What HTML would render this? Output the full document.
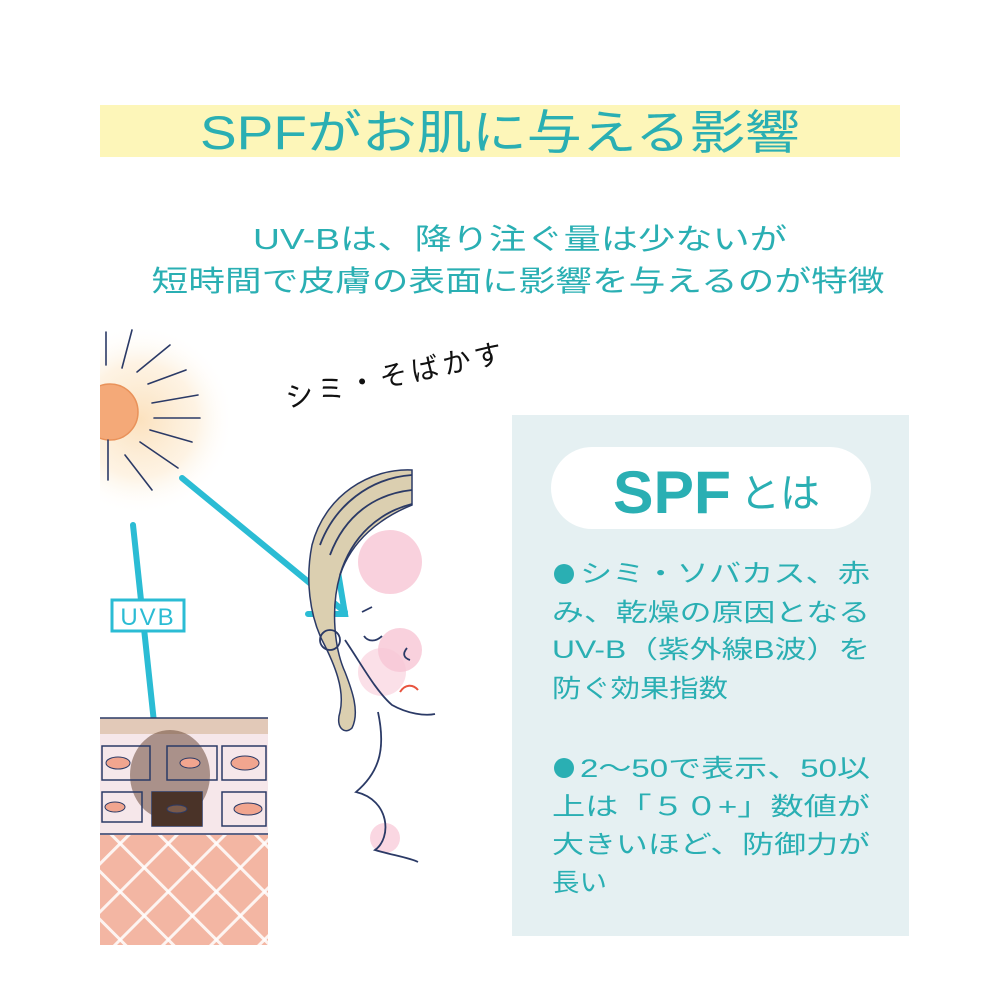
<!DOCTYPE html>
<html><head><meta charset="utf-8"><style>
html,body{margin:0;padding:0;background:#fff;width:1000px;height:1000px;overflow:hidden}
svg text{font-family:"Liberation Sans","Noto Sans CJK JP",sans-serif;fill:#2aafb3}
</style></head><body>
<svg width="1000" height="1000" viewBox="0 0 1000 1000" xmlns="http://www.w3.org/2000/svg">
<defs>
<radialGradient id="glow" cx="0.5" cy="0.5" r="0.5">
<stop offset="0" stop-color="#fbe0bb" stop-opacity="0.95"/>
<stop offset="0.6" stop-color="#fdeed8" stop-opacity="0.7"/>
<stop offset="1" stop-color="#fff" stop-opacity="0"/>
</radialGradient>
<pattern id="diag" width="34" height="34" patternUnits="userSpaceOnUse" patternTransform="rotate(45)">
<rect width="34" height="34" fill="#f3b6a3"/>
<rect width="3" height="34" fill="#fff" opacity="0.85"/>
<rect width="34" height="3" fill="#fff" opacity="0.85"/>
</pattern>
<clipPath id="lc"><rect x="100" y="0" width="900" height="1000"/></clipPath>
</defs>
<rect x="100" y="105" width="800" height="52" fill="#fdf6b9"/>
<text x="500" y="149" font-size="47" text-anchor="middle" textLength="600" lengthAdjust="spacingAndGlyphs">SPFがお肌に与える影響</text>
<text x="520" y="249" font-size="29" text-anchor="middle" textLength="534" lengthAdjust="spacingAndGlyphs">UV-Bは、降り注ぐ量は少ないが</text>
<text x="518" y="291" font-size="29" text-anchor="middle" textLength="733" lengthAdjust="spacingAndGlyphs">短時間で皮膚の表面に影響を与えるのが特徴</text>

<g clip-path="url(#lc)">
<circle cx="140" cy="420" r="95" fill="url(#glow)"/>
<circle cx="110" cy="412" r="28" fill="#f4a978" stroke="#e9925a" stroke-width="1.5"/>
<g stroke="#2b3a66" stroke-width="1.6" stroke-linecap="round">
<line x1="106" y1="332" x2="106" y2="365"/>
<line x1="132" y1="330" x2="122" y2="368"/>
<line x1="170" y1="345" x2="137" y2="372"/>
<line x1="186" y1="370" x2="148" y2="384"/>
<line x1="198" y1="395" x2="152" y2="403"/>
<line x1="200" y1="418" x2="154" y2="418"/>
<line x1="192" y1="442" x2="150" y2="430"/>
<line x1="178" y1="468" x2="140" y2="442"/>
<line x1="152" y1="490" x2="125" y2="455"/>
<line x1="108" y1="440" x2="108" y2="480"/>
</g>
</g>

<text x="288" y="408" font-size="28" style="fill:#111" transform="rotate(-12 288 408)" letter-spacing="4">シミ・そばかす</text>

<g stroke="#2bbcd4" stroke-width="6" fill="none" stroke-linecap="round">
<line x1="182" y1="478" x2="345" y2="612"/>
<polyline points="308,614 345,614 338,572"/>
<line x1="133" y1="525" x2="158" y2="760"/>
<polyline points="140,733 158,762 176,733"/>
</g>
<rect x="112" y="600" width="72" height="31" fill="#fff" stroke="#2bbcd4" stroke-width="3"/>
<text x="148" y="625" font-size="24" text-anchor="middle" style="fill:#2bbcd4" letter-spacing="2">UVB</text>

<rect x="100" y="835" width="168" height="110" fill="url(#diag)"/>
<rect x="100" y="718" width="168" height="117" fill="#f6e7ea"/>
<rect x="100" y="718" width="168" height="16" fill="#e2c9b8"/>
<line x1="100" y1="718" x2="268" y2="718" stroke="#2b3a66" stroke-width="1.5"/>
<line x1="100" y1="834" x2="268" y2="834" stroke="#2b3a66" stroke-width="1.5"/>
<ellipse cx="170" cy="775" rx="40" ry="45" fill="#6b4a3a" opacity="0.55"/>
<g fill="none" stroke="#2b3a66" stroke-width="1.5">
<rect x="102" y="746" width="48" height="34"/><rect x="167" y="746" width="50" height="34"/><rect x="222" y="746" width="44" height="34"/>
<rect x="102" y="792" width="40" height="30"/><rect x="152" y="792" width="50" height="34"/><rect x="222" y="792" width="44" height="34"/>
</g>
<rect x="152" y="792" width="50" height="34" fill="#4a3328"/>
<g fill="#f1a58f" stroke="#2b3a66" stroke-width="1">
<ellipse cx="118" cy="763" rx="12" ry="6"/><ellipse cx="190" cy="763" rx="10" ry="5"/><ellipse cx="245" cy="763" rx="14" ry="7"/>
<ellipse cx="115" cy="807" rx="10" ry="5"/><ellipse cx="177" cy="809" rx="10" ry="4" fill="#7a5a4a"/><ellipse cx="248" cy="809" rx="14" ry="6"/>
</g>

<!-- face -->
<circle cx="390" cy="562" r="32" fill="#f8c6d5" opacity="0.8"/>
<circle cx="400" cy="650" r="22" fill="#f8c6d5" opacity="0.8"/>
<circle cx="382" cy="672" r="24" fill="#f8c6d5" opacity="0.55"/>
<circle cx="385" cy="838" r="15" fill="#f8c6d5" opacity="0.7"/>
<path d="M412,470 C370,468 325,495 312,545 C305,580 310,615 322,640 C335,665 345,690 340,712 C335,728 345,735 352,728 C360,712 352,690 345,672 C335,650 330,610 340,575 C352,540 380,518 412,505 Z" fill="#dbcfb0" stroke="#2b3a66" stroke-width="1.5"/>
<g fill="none" stroke="#2b3a66" stroke-width="1.8">
<path d="M412,475 C370,478 335,505 320,545"/>
<path d="M412,490 C375,494 345,515 330,555"/>
<path d="M412,504 C380,512 352,535 340,575"/>
<path d="M345,640 C362,665 375,690 392,705 C408,714 425,716 435,714"/>
<path d="M378,712 C385,745 382,770 356,792 C390,800 392,838 375,850 C392,855 410,858 418,862"/>
<path d="M362,612 L372,607"/>
<path d="M364,636 C368,642 376,642 382,636"/>
<path d="M407,648 C402,654 404,658 410,660"/>
<circle cx="330" cy="640" r="10"/>
</g>
<path d="M400,692 C405,684 413,684 418,690" fill="none" stroke="#e8543f" stroke-width="2"/>

<rect x="512" y="415" width="397" height="521" fill="#e5f0f2"/>
<rect x="551" y="447" width="320" height="82" rx="41" fill="#fff"/>
<text x="613" y="513" font-size="60" font-weight="bold" textLength="118" lengthAdjust="spacingAndGlyphs">SPF</text>
<text x="740" y="507" font-size="40" textLength="80" lengthAdjust="spacingAndGlyphs">とは</text>
<g fill="#2aafb3"><circle cx="564" cy="574" r="10"/><circle cx="564" cy="768" r="10"/></g>
<g font-size="25">
<text x="580" y="582" textLength="290" lengthAdjust="spacingAndGlyphs">シミ・ソバカス、赤</text>
<text x="552" y="621" textLength="318" lengthAdjust="spacingAndGlyphs">み、乾燥の原因となる</text>
<text x="552" y="658" textLength="318" lengthAdjust="spacingAndGlyphs">UV-B（紫外線B波）を</text>
<text x="552" y="697" textLength="176" lengthAdjust="spacingAndGlyphs">防ぐ効果指数</text>
<text x="580" y="777" textLength="290" lengthAdjust="spacingAndGlyphs">2～50で表示、50以</text>
<text x="552" y="815" textLength="318" lengthAdjust="spacingAndGlyphs">上は「５０+」数値が</text>
<text x="552" y="853" textLength="318" lengthAdjust="spacingAndGlyphs">大きいほど、防御力が</text>
<text x="552" y="891" textLength="55" lengthAdjust="spacingAndGlyphs">長い</text>
</g>
</svg>
</body></html>
